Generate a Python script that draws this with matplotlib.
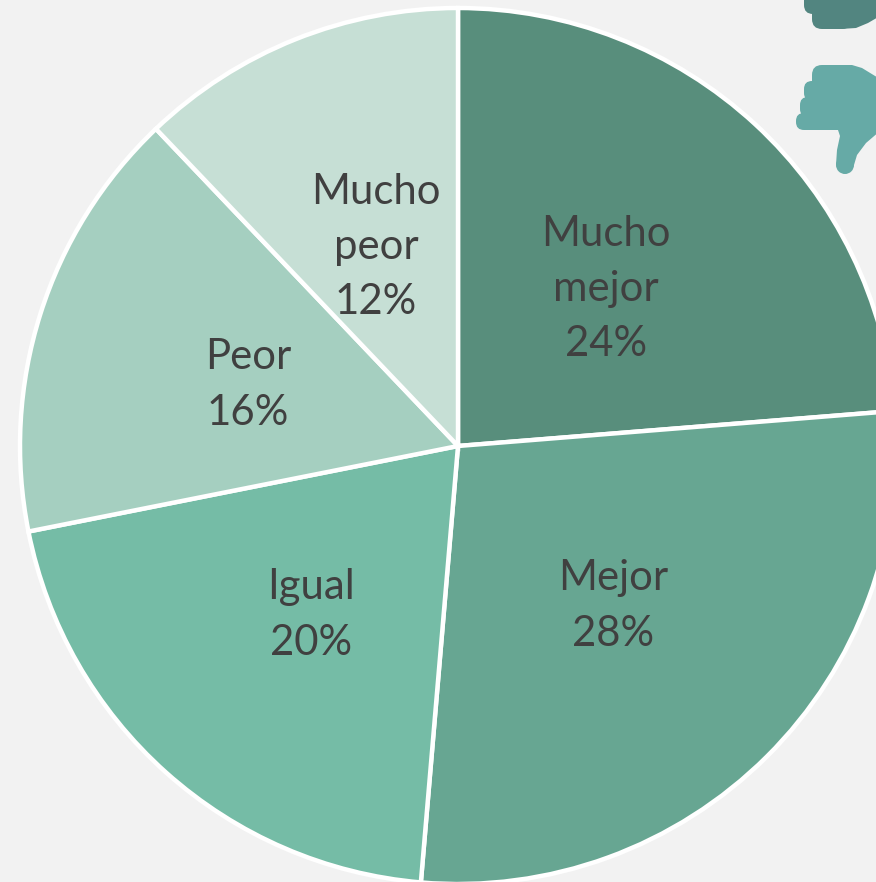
import matplotlib
matplotlib.use('Agg')
import matplotlib.pyplot as plt
from matplotlib.patches import Polygon, FancyBboxPatch, Circle

labels = ['Mucho\nmejor\n24%', 'Mejor\n28%', 'Igual\n20%', 'Peor\n16%', 'Mucho\npeor\n12%']
# slices, they do not follow the printed labels exactly
values = [23.7, 27.6, 20.5, 16.0, 12.1]
colors = ['#588e7c', '#67a692', '#75bca6', '#a5cfc0', '#c6dfd5']
label_xy = [(606, 289), (613, 606), (311, 615), (248, 385), (376, 247)]

plt.rcParams['font.family'] = ['Lato', 'DejaVu Sans']
W, H = 876, 882
fig = plt.figure(figsize=(W / 100, H / 100), dpi=100, facecolor='#f2f2f2')
ax = fig.add_axes([0, 0, 1, 1])

cx, cy, r = 458, 446, 438
# y axis is flipped, so counterclock=True runs clockwise on screen
ax.pie(values, colors=colors, startangle=-90, counterclock=True, center=(cx, cy), radius=r,
       wedgeprops={'edgecolor': 'white', 'linewidth': 3.2}, frame=True)
ax.set_xlim(0, W)
ax.set_ylim(H, 0)
ax.set_aspect('equal')
ax.axis('off')

for t, (x, y) in zip(labels, label_xy):
    ax.text(x, y, t, ha='center', va='center', fontsize=30.2, color='#404040', linespacing=1.55)


def blob(x, y, w, h, rad, col):
    ax.add_patch(FancyBboxPatch((x, y), w, h, boxstyle='round,pad=0,rounding_size=%d' % rad, fc=col, ec='none'))


# thumbs in the top right corner
c1 = '#528580'
c2 = '#66aaa6'
blob(804, -12, 40, 26, 9, c1)
blob(812, 4, 40, 25, 10, c1)
ax.add_patch(Polygon([(830, -5), (880, -5), (880, 16), (868, 23), (856, 28), (840, 29), (830, 20)], fc=c1, ec='none'))

blob(812, 65, 40, 30, 10, c2)
blob(804, 81, 40, 20, 8, c2)
blob(800, 97, 40, 20, 8, c2)
blob(796, 113, 50, 17, 8, c2)
ax.add_patch(Polygon([(825, 65), (852, 65), (862, 68), (880, 79), (880, 131), (866, 143), (857, 155), (854, 165),
                     (836, 165), (837, 150), (840, 136), (838, 130), (825, 130)], fc=c2, ec='none'))
ax.add_patch(Circle((845, 165), 9, fc=c2, ec='none'))

fig.savefig('out.png', dpi=100, facecolor=fig.get_facecolor())
